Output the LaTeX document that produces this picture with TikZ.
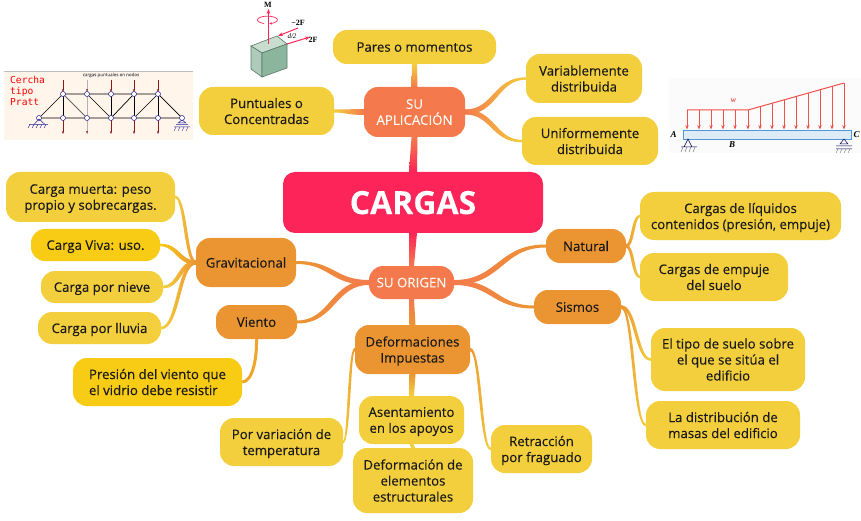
\documentclass[tikz,border=0pt]{standalone}
\usepackage{fontspec}
\setmainfont{Open Sans}[FakeBold=0.2]
\newfontfamily\plotfont{Liberation Serif}
\newfontfamily\trussfont{DejaVu Sans Mono}
\usetikzlibrary{arrows.meta, calc}
\definecolor{rootpink}{RGB}{252,36,88}
\definecolor{branchorange}{RGB}{244,122,77}
\definecolor{midorange}{RGB}{235,149,50}
\definecolor{leafyellow}{RGB}{243,207,61}
\definecolor{brightyellow}{RGB}{248,203,20}
\definecolor{trussred}{RGB}{139,26,26}
\definecolor{trussblue}{RGB}{30,30,150}
\definecolor{loadred}{RGB}{240,80,74}
\definecolor{blocktop}{RGB}{201,221,207}
\definecolor{blockleft}{RGB}{173,203,184}
\definecolor{blockright}{RGB}{140,181,157}
\definecolor{blockedge}{RGB}{90,120,105}
\definecolor{beamfill}{RGB}{220,235,245}
\definecolor{beamedge}{RGB}{80,150,220}
% tapered S-curve between two anchors, left end first
\newcommand{\hlink}[6]{\shade[left color=#3, right color=#4] let \p1=(#1), \p2=(#2), \n1={(\x1+\x2)/2}, \n2={ifthenelse(\y1>\y2,1,-1)*(#5+#6)*0.55pt} in
  (\x1,\y1+#5pt) .. controls (\n1+\n2,\y1+#5pt) and (\n1+\n2,\y2+#6pt) .. (\x2,\y2+#6pt) -- (\x2,\y2-#6pt)
  .. controls (\n1-\n2,\y2-#6pt) and (\n1-\n2,\y1-#5pt) .. (\x1,\y1-#5pt) -- cycle;}
% tapered straight link, top end first
\newcommand{\vlink}[6]{\shade[top color=#3, bottom color=#4] let \p1=(#1), \p2=(#2) in
  (\x1-#5pt,\y1) -- (\x1+#5pt,\y1) -- (\x2+#6pt,\y2) -- (\x2-#6pt,\y2) -- cycle;}

\begin{document}
\begin{tikzpicture}[x=1pt, y=-1pt,
  box/.style={rectangle, rounded corners=14pt, inner sep=0pt, align=center, text depth=-1.5pt, text=black!90, font=\fontsize{13.2}{16}\selectfont},
  leaf/.style={box, fill=leafyellow},
  brightleaf/.style={box, fill=brightyellow},
  mid/.style={box, fill=midorange},
  branch/.style={box, fill=branchorange, text=white!95!orange, font=\fontsize{13.3}{16}\selectfont},
  root/.style={box, fill=rootpink, rounded corners=12pt, text=white, font=\fontsize{32}{36}\selectfont\bfseries},
  member/.style={line width=0.7pt, black},
  joint/.style={circle, draw=trussblue, fill=white, line width=0.5pt, inner sep=0pt, minimum size=5pt},
  pull/.style={-{Stealth[length=3pt]}, line width=0.8pt, trussred},
  load/.style={-{Stealth[length=4.5pt]}, line width=1pt, loadred},
  force/.style={-{Stealth[length=5pt]}, line width=1pt, rootpink},
  plotlabel/.style={inner sep=0pt, font=\plotfont\bfseries\fontsize{8}{9}\selectfont}
]
\useasboundingbox (0,0) rectangle (861,521);

\node[root, minimum width=260pt, minimum height=61pt] (cargas) at (413,202.5) {CARGAS};
\node[branch, minimum width=101pt, minimum height=50pt] (aplic) at (414.5,112) {SU\\APLICACIÓN};
\node[branch, minimum width=85pt, minimum height=33pt] (origen) at (411.5,282.5) {SU ORIGEN};

\node[leaf, minimum width=163pt, minimum height=34pt] (pares) at (414.5,47) {Pares o momentos};
\node[leaf, minimum width=135pt, minimum height=48pt] (puntuales) at (266.5,111) {Puntuales o\\Concentradas};
\node[leaf, minimum width=116pt, minimum height=49pt] (variable) at (584,78.5) {Variablemente\\distribuida};
\node[leaf, minimum width=136pt, minimum height=48pt] (uniforme) at (590,141) {Uniformemente\\distribuida};

\node[mid, minimum width=100pt, minimum height=49pt] (grav) at (246,262.5) {Gravitacional};
\node[mid, minimum width=81pt, minimum height=34pt] (viento) at (256.5,322) {Viento};
\node[mid, minimum width=115pt, minimum height=49pt] (defor) at (412.5,349.5) {Deformaciones\\Impuestas};
\node[mid, minimum width=80pt, minimum height=34pt] (natural) at (586,246) {Natural};
\node[mid, minimum width=87pt, minimum height=34pt] (sismos) at (577.5,307) {Sismos};

\node[leaf, minimum width=169pt, minimum height=50pt] (muerta) at (90.5,197) {Carga muerta: peso\\propio y sobrecargas.};
\node[brightleaf, minimum width=129pt, minimum height=32pt] (viva) at (95.5,245) {Carga Viva: uso.};
\node[leaf, minimum width=122pt, minimum height=32pt] (nieve) at (102,287) {Carga por nieve};
\node[leaf, minimum width=123pt, minimum height=32pt] (lluvia) at (99.5,328) {Carga por lluvia};
\node[brightleaf, align=left, minimum width=169pt, minimum height=48pt] (presion) at (157.5,382) {Presión del viento que\\el vidrio debe resistir};

\node[leaf, minimum width=123pt, minimum height=48pt] (variacion) at (281.5,442) {Por variación de\\temperatura};
\node[leaf, minimum width=105pt, minimum height=48pt] (asiento) at (411.5,420) {Asentamiento\\en los apoyos};
\node[leaf, minimum width=120pt, minimum height=65pt] (elementos) at (413,480.5) {Deformación de\\elementos\\estructurales};
\node[leaf, minimum width=101pt, minimum height=48pt] (fraguado) at (541.5,449) {Retracción\\por fraguado};

\node[leaf, minimum width=201pt, minimum height=48pt] (liquidos) at (740.5,216) {Cargas de líquidos\\contenidos (presión, empuje)};
\node[leaf, minimum width=148pt, minimum height=48pt] (empuje) at (714,277) {Cargas de empuje\\del suelo};
\node[leaf, minimum width=154pt, minimum height=63pt] (suelo) at (728,359.5) {El tipo de suelo sobre\\el que se sitúa el\\edificio};
\node[leaf, minimum width=154pt, minimum height=48pt] (masas) at (723,425) {La distribución de\\masas del edificio};

\vlink{aplic.south}{cargas.north}{branchorange}{rootpink}{3}{4}
\vlink{cargas.south}{origen.north}{rootpink}{branchorange}{4}{2.5}
\vlink{pares.south}{aplic.north}{leafyellow}{branchorange}{2.5}{3}
\vlink{origen.south}{defor.north}{branchorange}{midorange}{2.5}{3}
\vlink{defor.south}{asiento.north}{midorange}{leafyellow}{3}{2.5}
\vlink{asiento.south}{elementos.north}{leafyellow}{leafyellow}{2}{2}

\hlink{puntuales.east}{aplic.west}{leafyellow}{branchorange}{1.5}{3}
\hlink{aplic.east}{variable.west}{branchorange}{leafyellow}{2.5}{1.2}
\hlink{aplic.east}{uniforme.west}{branchorange}{leafyellow}{2.5}{1.2}
\hlink{grav.east}{origen.west}{midorange}{branchorange}{1.5}{2.5}
\hlink{viento.east}{origen.west}{midorange}{branchorange}{1.5}{2.5}
\hlink{origen.east}{natural.west}{branchorange}{midorange}{2.5}{1.5}
\hlink{origen.east}{sismos.west}{branchorange}{midorange}{2.5}{1.5}
\hlink{muerta.east}{grav.west}{leafyellow}{midorange}{1.3}{2}
\hlink{viva.east}{grav.west}{brightyellow}{midorange}{1.3}{2}
\hlink{nieve.east}{grav.west}{leafyellow}{midorange}{1.3}{2}
\hlink{lluvia.east}{grav.west}{leafyellow}{midorange}{1.3}{2}
\hlink{variacion.east}{defor.west}{leafyellow}{midorange}{1.3}{1.7}
\hlink{defor.east}{fraguado.west}{midorange}{leafyellow}{1.7}{1.3}
\hlink{natural.east}{liquidos.west}{midorange}{leafyellow}{1.7}{1.3}
\hlink{natural.east}{empuje.west}{midorange}{leafyellow}{1.7}{1.3}
\hlink{sismos.east}{suelo.west}{midorange}{leafyellow}{1.7}{1.3}
\hlink{sismos.east}{masas.west}{midorange}{leafyellow}{1.7}{1.3}
\draw[line width=3pt, midorange!70!brightyellow] (viento.south) .. controls (257,360) and (252,382) .. (presion.east);

% truss
\fill[orange!8] (4,71) rectangle (193,140);
\draw[black!25, line width=0.5pt] (4,71) -- (193,71);
\node[inner sep=0pt, anchor=west, align=left, text=red, font=\trussfont\fontsize{9.6}{10.7}\selectfont] (cercha) at (10,91) {Cercha\\tipo\\Pratt};
\node[inner sep=0pt, text=black!55, font=\fontsize{4.5}{5}\selectfont] (nodos) at (111,75) {cargas puntuales en nodos};
\draw[member] (39,118) -- (182,118) (63,94) -- (158,94) (39,118) -- (63,94) (158,94) -- (182,118);
\draw[member] (63,94) -- (63,118) (111,94) -- (111,118) (134,94) -- (134,118) (158,94) -- (158,118);
\draw[member] (87,94) -- (111,118) (111,118) -- (134,94) (134,118) -- (158,94);
\draw[line width=1pt, black!60] (63,94) -- (87,118);
\draw[line width=0.8pt, black!30] (87,80) -- (87,134);
\foreach \x in {63,111,134,158} {
  \draw[pull] (\x,80) -- (\x,92);
  \draw[pull] (\x,120) -- (\x,134);
}
\fill[trussred] (87,90) circle (1pt) (87,132) circle (1pt);
\foreach \x in {39,63,87,111,134,158,182} {
  \node[joint] at (\x,118) {};
}
\foreach \x in {63,87,111,134,158} {
  \node[joint] at (\x,94) {};
}
\draw[trussblue, line width=0.5pt] (39,119) -- (34,124.5) -- (45,124.5) -- cycle (29,124.5) -- (48,124.5);
\draw[trussblue, line width=0.5pt] (182,120) -- (178,123) -- (186,123) -- cycle (176,124.5) -- (188,124.5) (174,127) -- (190,127);
\foreach \x in {30,34,38,42,46} {
  \draw[trussblue, line width=0.4pt] (\x,124.5) -- (\x-2,128);
}
\foreach \x in {176,180,184,188} {
  \draw[trussblue, line width=0.4pt] (\x,127) -- (\x-2,131);
}

% block
\filldraw[draw=blockedge, line width=0.6pt, fill=blocktop] (251,46) -- (262,53) -- (287,44) -- (277,36) -- cycle;
\filldraw[draw=blockedge, line width=0.6pt, fill=blockleft] (251,46) -- (262,53) -- (262,77) -- (251,69) -- cycle;
\filldraw[draw=blockedge, line width=0.6pt, fill=blockright] (262,53) -- (287,44) -- (287,68) -- (262,77) -- cycle;
\draw[force] (268.5,44) -- (268.5,9);
\draw[force, line width=0.7pt, -{Stealth[length=3pt]}] (264,23.5) arc[start angle=110, end angle=440, x radius=10, y radius=3.8];
\draw[force] (298,28) -- (278,36);
\draw[force] (287,44) -- (310,37);
\node[plotlabel] (m) at (268,4.5) {M};
\node[plotlabel] (menos) at (298,23) {−2F};
\node[plotlabel] (dos) at (313,40) {2F};
\node[plotlabel, font=\plotfont\itshape\fontsize{7}{8}\selectfont] (media) at (292,36) {d/2};

% beam
\fill[black!1.5] (669,78) rectangle (861,153);
\draw[loadred, line width=1pt] (687,110) -- (748,110) -- (844,83);
\foreach \x/\y in {687/110,699/110,711/110,723/110,735/110,748/110,760/106.6,772/103.3,784/99.9,796/96.5,808/93.1,820/89.8,832/86.4,844/83} {
  \draw[load] (\x,\y) -- (\x,129.5);
}
\draw[draw=beamedge, line width=0.7pt, fill=beamfill] (683,130) rectangle (851,139);
\draw[black!70!blue, line width=0.5pt] (688,139) -- (684,147) -- (692,147) -- cycle (681,147) -- (697,147);
\draw[black!70!blue, line width=0.5pt] (844,139) -- (840,144) -- (848,144) -- cycle (836,146) -- (852,146) (836,149) -- (852,149);
\foreach \x in {683,687,691,695} {
  \draw[black!60, line width=0.4pt] (\x,147) -- (\x-2,152);
}
\foreach \x in {838,842,846,850} {
  \draw[black!60, line width=0.4pt] (\x,149) -- (\x-2,153);
}
\node[plotlabel, text=loadred, font=\plotfont\bfseries\itshape\fontsize{8}{9}\selectfont] (w) at (733.5,100.5) {w};
\node[plotlabel, font=\plotfont\itshape\bfseries\fontsize{9}{10}\selectfont] (a) at (673.5,135) {A};
\node[plotlabel, font=\plotfont\itshape\bfseries\fontsize{9}{10}\selectfont] (b) at (732,144.5) {B};
\node[plotlabel, font=\plotfont\itshape\bfseries\fontsize{9}{10}\selectfont] (c) at (856.5,135) {C};
\end{tikzpicture}
\end{document}
